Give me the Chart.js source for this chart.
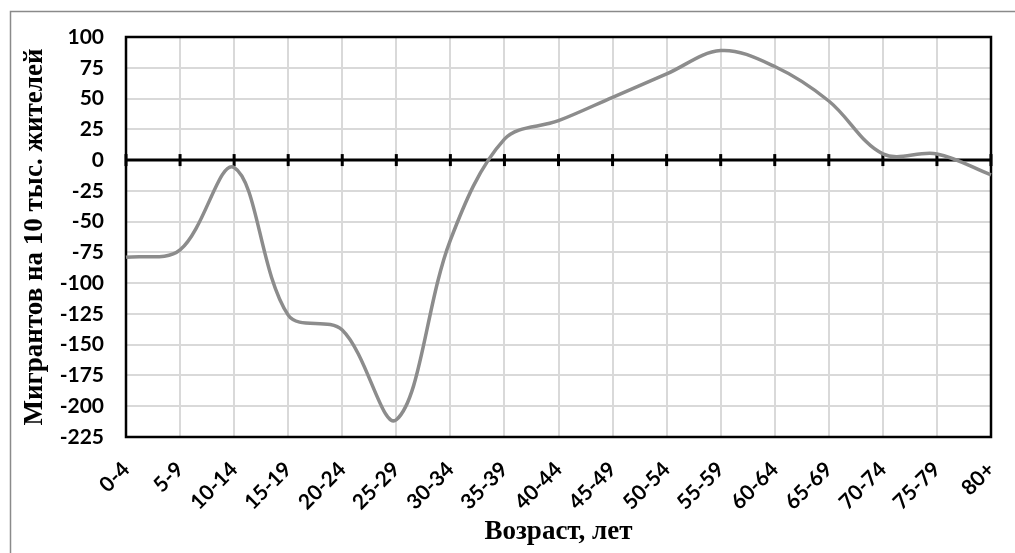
<!DOCTYPE html>
<html>
<head>
<meta charset="utf-8">
<script src="https://cdn.jsdelivr.net/npm/chart.js@4.4.1/dist/chart.umd.min.js"></script>
<style>
  html, body { margin: 0; padding: 0; background: #fff; }
  #migrChart { display: block; }
</style>
</head>
<body>
<canvas id="migrChart" width="1015" height="553"></canvas>
<script>
const ageGroups = ['0-4', '5-9', '10-14', '15-19', '20-24', '25-29', '30-34', '35-39', '40-44',
    '45-49', '50-54', '55-59', '60-64', '65-69', '70-74', '75-79', '80+'];
const migrantsPer10k = [-79, -73, -6, -126, -138, -211, -65, 17, 32, 51, 70, 89, 76, 48, 5, 5, -12];
const yMin = -225;
const yMax = 100;
const yStep = 25;

// frame round the whole picture + border of plot area + ticks on the zero line
const excelLook = {
    id: 'excelLook',
    beforeDraw(chart) {
        const ctx = chart.ctx;
        ctx.save();
        ctx.strokeStyle = '#8a8a8a';
        ctx.lineWidth = 1.5;
        ctx.strokeRect(10.5, 11.5, 1200, 900);
        ctx.restore();
    },
    beforeDatasetsDraw(chart) {
        const { ctx, chartArea, scales } = chart;
        ctx.save();
        ctx.strokeStyle = '#000';
        ctx.lineWidth = 2.5;
        ctx.strokeRect(chartArea.left, chartArea.top, chartArea.right - chartArea.left, chartArea.bottom - chartArea.top);
        const zeroY = scales.y.getPixelForValue(0);
        ctx.lineWidth = 3;
        ctx.beginPath();
        ctx.moveTo(chartArea.left, zeroY);
        ctx.lineTo(chartArea.right, zeroY);
        ctx.stroke();
        for (let i = 0; i < ageGroups.length; i++) {
            const x = scales.x.getPixelForTick(i);
            ctx.beginPath();
            ctx.moveTo(x, zeroY - 6);
            ctx.lineTo(x, zeroY + 6);
            ctx.stroke();
        }
        ctx.restore();
    }
};

const ctx = document.getElementById('migrChart').getContext('2d');
const migrChart = new Chart(ctx, {
    type: 'line',
    data: {
        labels: ageGroups,
        datasets: [{
            label: 'Мигрантов на 10 тыс. жителей',
            data: migrantsPer10k,
            borderColor: '#8c8c8c',
            borderWidth: 3.5,
            pointRadius: 0,
            fill: false,
            tension: 0.35
        }]
    },
    options: {
        responsive: false,
        devicePixelRatio: 1,
        animation: false,
        layout: {
            padding: { left: 14, top: 37, right: 24, bottom: 0 }
        },
        plugins: {
            legend: { display: false },
            tooltip: { enabled: false }
        },
        scales: {
            x: {
                offset: false,
                grid: {
                    color: '#d9d9d9',
                    lineWidth: 2,
                    drawTicks: false
                },
                border: { display: false },
                ticks: {
                    maxRotation: 45,
                    minRotation: 45,
                    autoSkip: false,
                    padding: 20,
                    color: '#000',
                    font: { family: 'Lato', weight: 'bold', size: 21 }
                },
                title: {
                    display: true,
                    text: 'Возраст, лет',
                    color: '#000',
                    padding: { top: 0, bottom: 5 },
                    font: { family: 'Liberation Serif', weight: 'bold', size: 27 }
                },
                afterFit(scale) {
                    scale.height = 116;
                    scale.paddingRight = 0;
                }
            },
            y: {
                min: yMin,
                max: yMax,
                grid: {
                    color: '#d9d9d9',
                    lineWidth: 2,
                    drawTicks: false
                },
                border: { display: false },
                ticks: {
                    stepSize: yStep,
                    padding: 22,
                    color: '#000',
                    font: { family: 'Lato', weight: 'bold', size: 21 }
                },
                title: {
                    display: true,
                    text: 'Мигрантов на 10 тыс. жителей',
                    color: '#000',
                    padding: { top: 5, bottom: 0 },
                    font: { family: 'Liberation Serif', weight: 'bold', size: 27 }
                },
                afterFit(scale) { scale.width = 112; }
            }
        }
    },
    plugins: [excelLook]
});
</script>
</body>
</html>
